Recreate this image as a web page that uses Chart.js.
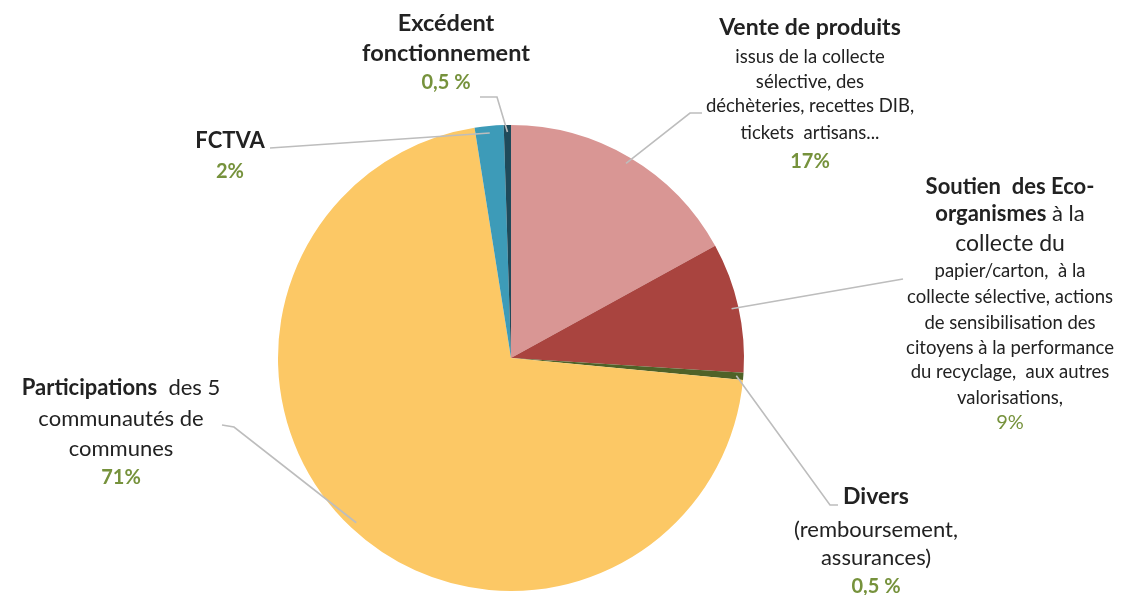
<!DOCTYPE html>
<html lang="fr">
<head>
    <meta charset="UTF-8">
    <title>Recettes - répartition</title>
    <script src="https://cdn.jsdelivr.net/npm/chart.js"></script>
    <style>
        html, body { margin: 0; padding: 0; background: #fff; }
        #wrap { position: relative; width: 1126px; height: 595px; }
    </style>
</head>
<body>
    <div id="wrap"><canvas id="pieChart"></canvas></div>

    <script>
        // Data (clockwise from 12 o'clock)
        const categories = ['Vente de produits', 'Soutien des Eco-organismes', 'Divers', 'Participations', 'FCTVA', 'Excédent fonctionnement'];
        const values = [17, 9, 0.5, 71, 2, 0.5];
        const pctLabels = ['17%', '9%', '0,5 %', '71%', '2%', '0,5 %'];
        // label text, *...* = bold part
        const labelLines = [
            ['*Vente de produits*', 'issus de la collecte', 'sélective, des', 'déchèteries, recettes DIB,', 'tickets  artisans...'],
            ['*Soutien  des Eco-*', '*organismes* à la', 'collecte du', 'papier/carton,  à la', 'collecte sélective, actions', 'de sensibilisation des', 'citoyens à la performance', 'du recyclage,  aux autres', 'valorisations,'],
            ['*Divers*', '(remboursement,', 'assurances)'],
            ['*Participations*  des 5', 'communautés de', 'communes'],
            ['*FCTVA*'],
            ['*Excédent*', '*fonctionnement*']
        ];
        const sliceColors = ['#D99694', '#A9443F', '#4F6228', '#FCC865', '#3D9BB8', '#1F4A5A'];

        // label layout: centre x, y of each line, font size of each line, leader elbow points
        const FONT = 'Lato, "Open Sans", sans-serif';
        const TEXT = '#222222';
        const GREEN = '#76923C';
        const layout = [
            { x: 810, ys: [28, 57, 82, 106, 133, 162], sizes: [23, 18.5, 18.5, 18.5, 18.5, 20], pctBold: true,
              elbow: [[702, 113], [690, 113]] },
            { x: 1010, ys: [187, 214, 244, 271, 297, 323, 348, 372, 398, 423], sizes: [22, 22, 23, 18.5, 18.5, 18.5, 18.5, 18.5, 18.5, 20], pctBold: false,
              elbow: [[903, 279]] },
            { x: 876, ys: [497, 530, 558, 587], sizes: [23, 22, 22, 20], pctBold: true,
              elbow: [[838, 505], [830, 505]] },
            { x: 121, ys: [388, 419, 449, 478], sizes: [22, 22, 22, 20], pctBold: true,
              elbow: [[222, 425], [234, 427]] },
            { x: 230, ys: [141, 172], sizes: [22, 20], pctBold: true,
              elbow: [[270, 148]] },
            { x: 446, ys: [23, 53, 83], sizes: [23.5, 23.5, 20], pctBold: true,
              elbow: [[480, 97], [497, 97]] }
        ];

        function parseRuns(line) {
            const parts = line.split('*');
            const runs = [];
            parts.forEach((p, i) => { if (p) runs.push({ text: p, bold: i % 2 === 1 }); });
            return runs;
        }

        function drawLine(ctx, runs, cx, cy, size, color) {
            let total = 0;
            runs.forEach(r => {
                ctx.font = (r.bold ? 'bold ' : '') + size + 'px ' + FONT;
                r.w = ctx.measureText(r.text).width;
                total += r.w;
            });
            let x = cx - total / 2;
            runs.forEach(r => {
                ctx.font = (r.bold ? 'bold ' : '') + size + 'px ' + FONT;
                ctx.fillStyle = color;
                ctx.fillText(r.text, x, cy);
                x += r.w;
            });
        }

        const calloutPlugin = {
            id: 'callouts',
            afterDatasetsDraw(chart) {
                const ctx = chart.ctx;
                const arcs = chart.getDatasetMeta(0).data;
                ctx.save();
                // leader lines
                ctx.strokeStyle = '#BDBDBD';
                ctx.lineWidth = 1.6;
                arcs.forEach((arc, i) => {
                    const p = arc.getProps(['x', 'y', 'startAngle', 'endAngle', 'outerRadius'], true);
                    const mid = (p.startAngle + p.endAngle) / 2;
                    const r = p.outerRadius * 0.97;
                    const ax = p.x + Math.cos(mid) * r;
                    const ay = p.y + Math.sin(mid) * r;
                    const pts = layout[i].elbow;
                    ctx.beginPath();
                    ctx.moveTo(pts[0][0], pts[0][1]);
                    for (let k = 1; k < pts.length; k++) ctx.lineTo(pts[k][0], pts[k][1]);
                    ctx.lineTo(ax, ay);
                    ctx.stroke();
                });
                // texts
                ctx.textBaseline = 'middle';
                ctx.textAlign = 'left';
                labelLines.forEach((lines, i) => {
                    const L = layout[i];
                    lines.forEach((line, k) => {
                        drawLine(ctx, parseRuns(line), L.x, L.ys[k], L.sizes[k], TEXT);
                    });
                    const k = lines.length;
                    drawLine(ctx, [{ text: pctLabels[i], bold: L.pctBold }], L.x, L.ys[k], L.sizes[k], GREEN);
                });
                ctx.restore();
            }
        };

        const pieCtx = document.getElementById('pieChart').getContext('2d');
        const pieChart = new Chart(pieCtx, {
            type: 'pie',
            data: {
                labels: categories,
                datasets: [{
                    data: values,
                    backgroundColor: sliceColors,
                    borderWidth: 0
                }]
            },
            options: {
                responsive: true,
                maintainAspectRatio: false,
                animation: false,
                layout: { padding: { left: 278, right: 382, top: 125, bottom: 4 } },
                plugins: {
                    legend: { display: false },
                    tooltip: { enabled: false }
                }
            },
            plugins: [calloutPlugin]
        });
    </script>
</body>
</html>
